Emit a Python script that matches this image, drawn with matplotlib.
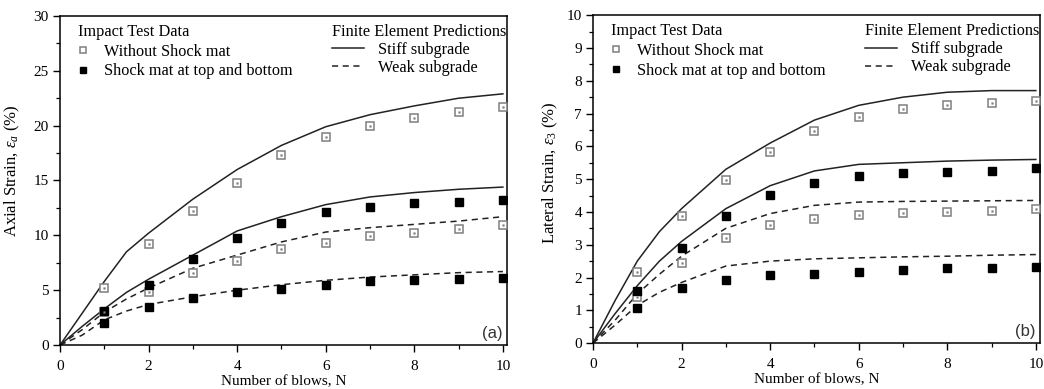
import numpy as np
import matplotlib
matplotlib.use("Agg")
import matplotlib.pyplot as plt
from matplotlib.lines import Line2D

plt.rcParams["font.family"] = ["Liberation Serif", "DejaVu Serif"]
plt.rcParams["mathtext.fontset"] = "custom"
plt.rcParams["mathtext.rm"] = "Liberation Serif"
plt.rcParams["mathtext.it"] = "Liberation Serif:italic"

# test blows
blows = [1, 2, 3, 4, 5, 6, 7, 8, 9, 10]
# finite element curve positions
fe_n = [0, 0.5, 1, 1.5, 2, 3, 4, 5, 6, 7, 8, 9, 10]

# (a) axial strain, test data
a_nomat_stiff = [5.2, 9.2, 12.2, 14.8, 17.3, 19.0, 20.0, 20.7, 21.2, 21.7]
a_nomat_weak = [3.05, 4.8, 6.6, 7.7, 8.8, 9.3, 9.9, 10.25, 10.6, 10.9]
a_mat_stiff = [3.1, 5.5, 7.8, 9.75, 11.15, 12.1, 12.55, 12.95, 13.05, 13.25]
a_mat_weak = [2.0, 3.45, 4.25, 4.8, 5.15, 5.5, 5.8, 5.9, 6.0, 6.1]
# (a) FE predictions
a_fe_stiff_1 = [0, 2.9, 5.8, 8.5, 10.2, 13.3, 16.0, 18.2, 19.9, 21.0, 21.8, 22.5, 22.9]
a_fe_stiff_2 = [0, 1.7, 3.3, 4.8, 6.0, 8.2, 10.4, 11.7, 12.8, 13.5, 13.9, 14.2, 14.4]
a_fe_weak_1 = [0, 1.4, 3.0, 4.2, 5.2, 7.0, 8.2, 9.4, 10.3, 10.7, 11.0, 11.3, 11.7]
a_fe_weak_2 = [0, 0.9, 2.3, 3.1, 3.7, 4.4, 5.0, 5.5, 5.9, 6.2, 6.4, 6.6, 6.7]

# (b) lateral strain, test data
b_nomat_stiff = [2.18, 3.88, 4.96, 5.83, 6.48, 6.9, 7.15, 7.27, 7.31, 7.37]
b_nomat_weak = [1.42, 2.43, 3.21, 3.59, 3.79, 3.91, 3.96, 4.0, 4.02, 4.09]
b_mat_stiff = [1.58, 2.9, 3.88, 4.52, 4.88, 5.09, 5.18, 5.21, 5.26, 5.35]
b_mat_weak = [1.06, 1.68, 1.93, 2.07, 2.12, 2.17, 2.23, 2.28, 2.28, 2.33]
# (b) FE predictions
b_fe_stiff_1 = [0, 1.3, 2.5, 3.4, 4.1, 5.3, 6.1, 6.8, 7.25, 7.5, 7.65, 7.7, 7.7]
b_fe_stiff_2 = [0, 0.9, 1.75, 2.5, 3.1, 4.1, 4.8, 5.25, 5.45, 5.5, 5.55, 5.58, 5.6]
b_fe_weak_1 = [0, 0.7, 1.5, 2.1, 2.65, 3.5, 3.95, 4.2, 4.3, 4.32, 4.33, 4.34, 4.35]
b_fe_weak_2 = [0, 0.55, 1.15, 1.55, 1.85, 2.35, 2.5, 2.57, 2.6, 2.63, 2.65, 2.68, 2.7]

line_col = "#222222"
open_col = "#7f7f7f"
dash = (0, (4, 3))
leg_fs = 11.7

fig = plt.figure(figsize=(10.44, 3.89), dpi=100)
ax1 = fig.add_axes([0.0575, 0.113, 0.428, 0.846])
ax2 = fig.add_axes([0.568, 0.118, 0.428, 0.843])


def draw(ax, fe, nomat, mat, ymax, ymajor, yminor, ylabel, tag, lab_xy):
    for y in fe[:2]:
        ax.plot(fe_n, y, color=line_col, lw=1.1, zorder=2)
    for y in fe[2:]:
        ax.plot(fe_n, y, color=line_col, lw=1.1, ls=dash, zorder=2)
    for y in nomat:
        ax.plot(blows, y, ls="none", marker="s", ms=5.5, mfc="white",
                mec=open_col, mew=1.1, zorder=3)
        ax.plot(blows, y, ls="none", marker="s", ms=1.2, mfc=open_col,
                mec=open_col, mew=0.3, zorder=4)
    for y in mat:
        ax.plot(blows, y, ls="none", marker="s", ms=5.5, mfc="black",
                mec="black", zorder=3)

    ax.set_xlim(0, 10.09)
    ax.set_ylim(0, ymax)
    ax.set_xticks([0, 2, 4, 6, 8, 10])
    ax.set_xticks(np.arange(1, 10, 2), minor=True)
    ax.set_yticks(np.arange(0, ymax + 0.01, ymajor))
    ax.set_yticks(np.arange(0, ymax + 0.01, yminor), minor=True)
    ax.tick_params(which="major", direction="out", length=5, width=1.0,
                   labelsize=11)
    ax.tick_params(axis="x", which="major", pad=6)
    ax.tick_params(axis="y", which="major", pad=3)
    ax.tick_params(which="minor", direction="out", length=3, width=0.9)
    for s in ax.spines.values():
        s.set_linewidth(1.1)
    ax.set_xlabel("Number of blows, N", fontsize=11, labelpad=1)
    ax.set_ylabel(ylabel, fontsize=12)
    ax.yaxis.set_label_coords(*lab_xy)
    ax.text(0.99, 0.012, tag, transform=ax.transAxes, ha="right", va="bottom",
            fontsize=12, family="Liberation Sans", color="#333333")

    h1 = [Line2D([], [], ls="none", marker="s", ms=5, mfc="white", mec=open_col, mew=1.1),
          Line2D([], [], ls="none", marker="s", ms=5, mfc="black", mec="black")]
    leg1 = ax.legend(h1, ["Without Shock mat", "Shock mat at top and bottom"],
                     title="Impact Test Data", loc="upper left",
                     bbox_to_anchor=(0.04, 0.975), frameon=False, fontsize=leg_fs,
                     title_fontsize=leg_fs, alignment="left", handlelength=0.6,
                     handletextpad=1.0, labelspacing=0.22, borderaxespad=0,
                     borderpad=0)
    ax.add_artist(leg1)
    h2 = [Line2D([], [], color=line_col, lw=1.1),
          Line2D([], [], color=line_col, lw=1.1, ls=dash)]
    ax.legend(h2, ["Stiff subgrade", "Weak subgrade"],
              title="Finite Element Predictions", loc="upper left",
              bbox_to_anchor=(0.6085, 0.975), frameon=False, fontsize=leg_fs,
              title_fontsize=leg_fs, alignment="left", handlelength=2.0,
              handletextpad=0.85, labelspacing=0.12, borderaxespad=0,
              borderpad=0)


draw(ax1, [a_fe_stiff_1, a_fe_stiff_2, a_fe_weak_1, a_fe_weak_2],
     [a_nomat_stiff, a_nomat_weak], [a_mat_stiff, a_mat_weak],
     30, 5, 2.5, r"Axial Strain, $\varepsilon_a$ (%)", "(a)", (-0.085, 0.53))
draw(ax2, [b_fe_stiff_1, b_fe_stiff_2, b_fe_weak_1, b_fe_weak_2],
     [b_nomat_stiff, b_nomat_weak], [b_mat_stiff, b_mat_weak],
     10, 1, 0.5, r"Lateral Strain, $\varepsilon_3$ (%)", "(b)", (-0.074, 0.52))

fig.savefig("out.png", dpi=100)
